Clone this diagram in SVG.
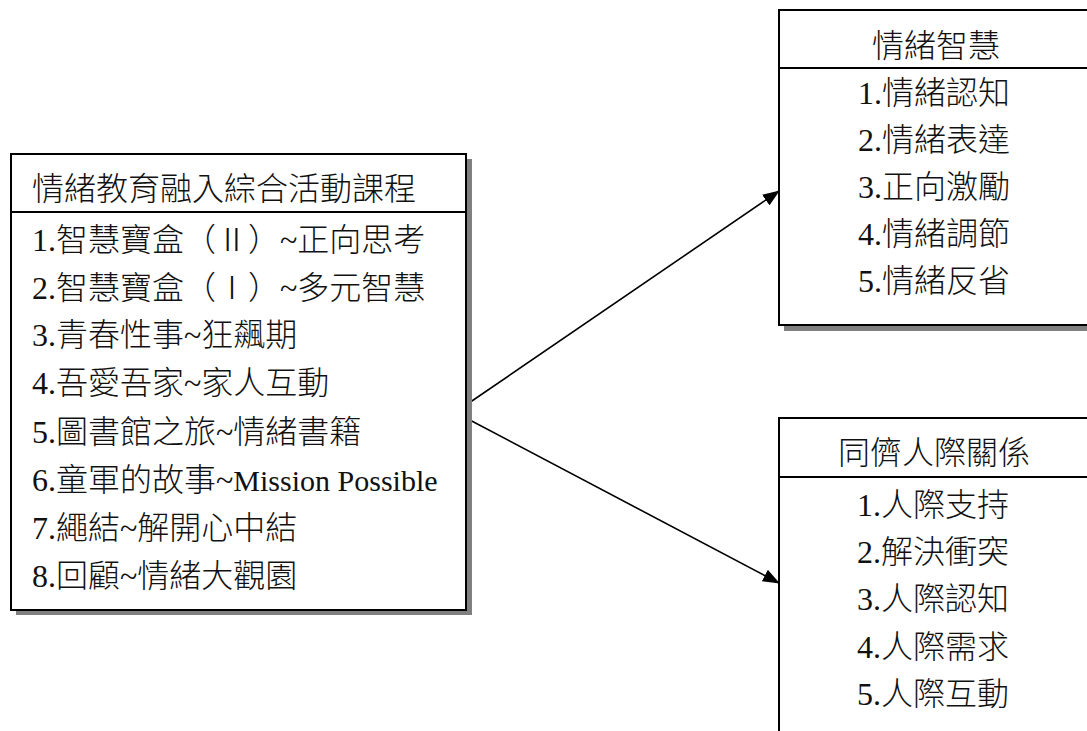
<svg xmlns="http://www.w3.org/2000/svg" width="1087" height="731" viewBox="0 0 1087 731">
<style>
.box{fill:#fff;stroke:#000;stroke-width:2}
.shadow{fill:#808080;stroke:none}
.div{stroke:#000;stroke-width:2}
.t{font-family:"Liberation Serif","Noto Sans CJK TC",serif;font-size:32px;font-weight:300;fill:#111}
.c{text-anchor:middle}
.lat{font-size:30px}
.conn{stroke:#000;stroke-width:1.6;fill:none}
</style>
<defs>
<marker id="arr" markerUnits="userSpaceOnUse" markerWidth="17" markerHeight="13" viewBox="0 0 17 13" refX="16" refY="6.5" orient="auto">
<path d="M0,0 L17,6.5 L0,13 z" fill="#000"/>
</marker>
</defs>
<rect width="1087" height="731" fill="#fff"/>
<g id="connectors">
<line class="conn" x1="466" y1="405" x2="779" y2="191" marker-end="url(#arr)"/>
<line class="conn" x1="466" y1="418" x2="779" y2="583" marker-end="url(#arr)"/>
</g>
<g id="node-course">
<rect class="shadow" x="16" y="159" width="456" height="456"/>
<rect class="box" x="11" y="154" width="455" height="456"/>
<line class="div" x1="11" y1="212" x2="466" y2="212"/>
<text class="t" x="32" y="200">情緒教育融入綜合活動課程</text>
<text class="t" x="32" y="251">1.智慧寶盒（Ⅱ）~正向思考</text>
<text class="t" x="32" y="299">2.智慧寶盒（Ⅰ）~多元智慧</text>
<text class="t" x="32" y="346">3.青春性事~狂飆期</text>
<text class="t" x="32" y="394">4.吾愛吾家~家人互動</text>
<text class="t" x="32" y="443">5.圖書館之旅~情緒書籍</text>
<text class="t" x="32" y="491">6.童軍的故事~<tspan class="lat">Mission Possible</tspan></text>
<text class="t" x="32" y="539">7.繩結~解開心中結</text>
<text class="t" x="32" y="587">8.回顧~情緒大觀園</text>
</g>
<g id="node-eq">
<rect class="shadow" x="784" y="15" width="320" height="316"/>
<rect class="box" x="779" y="10" width="315" height="315"/>
<line class="div" x1="779" y1="68" x2="1094" y2="68"/>
<text class="t c" x="936" y="57">情緒智慧</text>
<text class="t c" x="934" y="104">1.情緒認知</text>
<text class="t c" x="934" y="151">2.情緒表達</text>
<text class="t c" x="934" y="198">3.正向激勵</text>
<text class="t c" x="934" y="245">4.情緒調節</text>
<text class="t c" x="934" y="292">5.情緒反省</text>
</g>
<g id="node-peer">
<rect class="box" x="779" y="418" width="315" height="340"/>
<line class="div" x1="779" y1="477" x2="1094" y2="477"/>
<text class="t c" x="934" y="464">同儕人際關係</text>
<text class="t c" x="933" y="516">1.人際支持</text>
<text class="t c" x="933" y="563">2.解決衝突</text>
<text class="t c" x="933" y="610">3.人際認知</text>
<text class="t c" x="933" y="658">4.人際需求</text>
<text class="t c" x="933" y="705">5.人際互動</text>
</g>
</svg>
